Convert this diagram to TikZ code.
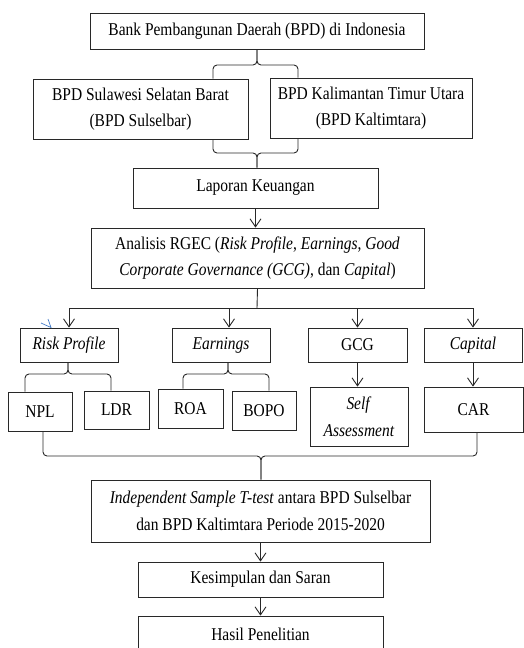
\documentclass[tikz,border=0pt]{standalone}
\usepackage{fontspec}
\setmainfont{Liberation Serif}[FakeStretch=0.86]
\definecolor{inkgray}{RGB}{40, 40, 40}
\definecolor{penblue}{RGB}{70, 125, 200}
\usepackage{tikz}
\usetikzlibrary{arrows.meta, calc}

\begin{document}
\begin{tikzpicture}[x=1pt, y=-1pt,
    box/.style={draw=inkgray, line width=0.8pt, inner sep=0pt, align=center,
      font=\fontsize{18}{26.5}\selectfont},
    arr/.style={draw=inkgray, line width=0.9pt, -{Straight Barb[length=8pt, width=11pt]}},
    brc/.style={draw=inkgray, line width=0.9pt, rounded corners=4pt}]
  \useasboundingbox (0,0) rectangle (523,648);

  % Bank and the two BPDs
  \node[box, minimum width=334pt, minimum height=36pt] (bpd) at (257,31) {Bank Pembangunan Daerah (BPD) di Indonesia};
  \node[box, minimum width=215pt, minimum height=60pt] (sulsel) at (140.5,109) {BPD Sulawesi Selatan Barat\\(BPD Sulselbar)};
  \node[box, minimum width=202pt, minimum height=60pt] (kaltim) at (371,108) {BPD Kalimantan Timur Utara\\(BPD Kaltimtara)};
  \coordinate (t1) at (257,65);
  \draw[brc] ([xshift=72.5pt]sulsel.north) |- (t1) -- (bpd.south);
  \draw[brc] ([xshift=-73pt]kaltim.north) |- (t1) -- (bpd.south);

  % Laporan and RGEC
  \node[box, minimum width=245pt, minimum height=40pt] (lapkeu) at (255.5,188) {Laporan Keuangan};
  \node[box, minimum width=333pt, minimum height=60pt] (rgec) at (257.5,258) {Analisis RGEC (\textit{Risk Profile}, \textit{Earnings}, \textit{Good}\\\textit{Corporate Governance (GCG)}, dan \textit{Capital})};
  \coordinate (t2) at (257,153);
  \draw[brc] ([xshift=72.5pt]sulsel.south) |- (t2) -- (t2 |- lapkeu.north);
  \draw[brc] ([xshift=-73pt]kaltim.south) |- (t2) -- (t2 |- lapkeu.north);
  \draw[arr] (lapkeu.south) -- (lapkeu.south |- rgec.north);

  % Four components
  \node[box, minimum width=98pt, minimum height=34pt] (risk) at (69,345) {\textit{Risk Profile}};
  \node[box, minimum width=98pt, minimum height=34pt] (earn) at (221,345) {\textit{Earnings}};
  \node[box, minimum width=99pt, minimum height=34pt] (gcg) at (357.5,345) {GCG};
  \node[box, minimum width=98pt, minimum height=34pt] (capital) at (473,345) {\textit{Capital}};
  \coordinate (bus) at (257,308);
  \draw[draw=inkgray, line width=0.9pt] (rgec.south) -- (bus);
  \draw[draw=inkgray, line width=0.9pt] (risk.north |- bus) -- (capital.north |- bus);
  \draw[arr] (risk.north |- bus) -- (risk.north);
  \draw[arr] ([xshift=8pt]earn.north |- bus) -- ([xshift=8pt]earn.north);
  \draw[arr] (gcg.north |- bus) -- (gcg.north);
  \draw[arr] (capital.north |- bus) -- (capital.north);
  \draw[penblue, line width=0.7pt] (41,323) -- (51,327.5) -- (48,319);

  % Ratios
  \node[box, minimum width=64pt, minimum height=39pt] (npl) at (40,411.5) {NPL};
  \node[box, minimum width=65pt, minimum height=38pt] (ldr) at (116.5,410) {LDR};
  \node[box, minimum width=65pt, minimum height=39pt] (roa) at (190.5,408.5) {ROA};
  \node[box, minimum width=64pt, minimum height=39pt] (bopo) at (264,410.5) {BOPO};
  \node[box, minimum width=98pt, minimum height=59pt] (selfas) at (359,416.5) {\textit{Self}\\\textit{Assessment}};
  \node[box, minimum width=99pt, minimum height=45pt] (car) at (473.5,409.5) {CAR};
  \coordinate (t3) at (68,374);
  \draw[brc] ([xshift=-15pt]npl.north) |- (t3) -- (t3 |- risk.south);
  \draw[brc] ([xshift=-5.5pt]ldr.north) |- (t3) -- (t3 |- risk.south);
  \coordinate (t4) at (228,374);
  \draw[brc] ([xshift=-7.5pt]roa.north) |- (t4) -- (t4 |- earn.south);
  \draw[brc] ([xshift=5pt]bopo.north) |- (t4) -- (t4 |- earn.south);
  \draw[arr] (gcg.south) -- (gcg.south |- selfas.north);
  \draw[arr] (capital.south) -- (capital.south |- car.north);

  % Test, conclusion, result
  \node[box, minimum width=339pt, minimum height=62pt] (ttest) at (260.5,511) {\textit{Independent Sample T-test} antara BPD Sulselbar\\dan BPD Kaltimtara Periode 2015-2020};
  \node[box, minimum width=245pt, minimum height=35pt] (kesimpulan) at (260.5,579.5) {Kesimpulan dan Saran};
  \node[box, minimum width=245pt, minimum height=36pt] (hasil) at (260.5,634) {Hasil Penelitian};
  \coordinate (t5) at (261,456);
  \draw[brc] ([xshift=3pt]npl.south) |- (t5) -- (t5 |- ttest.north);
  \draw[brc] ([xshift=3.5pt]car.south) |- (t5) -- (t5 |- ttest.north);
  \draw[arr] (ttest.south) -- (kesimpulan.north);
  \draw[arr] (kesimpulan.south) -- (hasil.north);
\end{tikzpicture}
\end{document}
